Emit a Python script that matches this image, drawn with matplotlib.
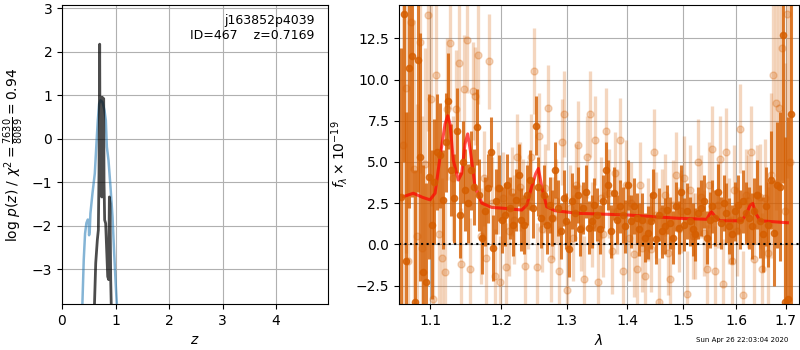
import matplotlib
matplotlib.use("Agg")
import matplotlib.pyplot as plt
from matplotlib.ticker import NullLocator, NullFormatter
import numpy as np

# --- left panel: log p(z) ---
z_prior = [0.381, 0.406, 0.431, 0.456, 0.481, 0.500, 0.506, 0.519, 0.531, 0.569,
           0.613, 0.644, 0.669, 0.694, 0.719, 0.756, 0.794, 0.819, 0.838, 0.869,
           0.906, 0.944, 0.975, 1.006, 1.025]
logp_prior = [-3.80, -2.79, -2.18, -1.94, -1.86, -1.87, -2.22, -2.10, -1.72, -1.26,
              -0.80, -0.11, 0.42, 0.80, 0.88, 0.84, 0.65, 0.42, -0.19, -0.50,
              -1.11, -1.80, -2.64, -3.40, -3.80]

z_fit = [0.604, 0.630, 0.660, 0.679, 0.692, 0.704, 0.710, 0.716, 0.722, 0.729,
         0.735, 0.742, 0.748, 0.754, 0.760, 0.766, 0.772, 0.779, 0.785, 0.790,
         0.797, 0.816, 0.835, 0.854, 0.872, 0.885, 0.897, 0.910, 0.922]
logp_fit = [-3.93, -2.86, -2.33, -2.10, -0.73, 2.17, -0.20, -1.18, 0.80, 0.95,
            -1.30, -1.34, 0.90, 0.95, -1.20, -1.34, 0.85, 0.92, -1.00, -1.34,
            -1.87, -1.95, -2.56, -3.17, -3.24, -1.34, -1.49, -3.24, -3.93]

# --- right panel: G141 spectrum ---
wave_range = (1.0613, 1.711)
flux = [2.9, 14.0, -1.0, 10.7, 11.4, -3.5, 11.2, 5.3, -1.7, -2.3,
        4.1, 1.2, 3.8, 5.6, 5.4, 2.7, 6.2, 8.7, 4.5, 2.8,
        6.9, 1.8, 5.0, 3.3, 2.5, 4.5, 3.5, 7.1, 3.0, 0.4,
        2.0, 3.4, 5.6, -0.2, 2.6, 3.4, 1.5, 1.8, 3.6, 2.2,
        1.2, 2.7, 4.2, 1.5, 1.2, 3.0, 3.9, 2.2, 7.2, 3.5,
        1.6, 3.0, 1.2, 2.4, 1.6, 4.5, 2.2, 0.8, 2.8, 1.4,
        -0.3, 2.6, 1.9, 3.0, 0.9, 2.2, 3.2, 1.0, 1.4, 2.4,
        1.8, 0.9, 2.6, 4.5, 3.6, 0.8, 3.1, 1.5, 2.3, 1.8,
        1.1, 3.6, 1.4, 2.3, 1.6, 0.9, 1.5, 0.4, 0.7, 1.4,
        3.0, 0.3, 1.8, 0.8, 1.1, 2.1, 1.3, 0.4, 2.3, 1.0,
        3.2, 1.2, 2.0, 1.4, 0.9, 0.6, 1.9, 2.2, 2.6, 0.4,
        1.5, 2.3, 1.6, 3.2, 1.3, 2.5, 1.9, 1.1, 0.6, 2.0,
        2.4, 1.5, 2.6, 1.9, 1.6, 1.1, 2.0, 3.0, 1.4, 0.6,
        2.3, 1.2, 3.9, 0.7, 3.6, 3.5, 12.7, -3.5, -3.3, 7.9]
err = [9.0, 9.0, 9.0, 8.5, 8.5, 8.0, 8.0, 7.5, 6.5, 6.0,
       5.0, 4.5, 3.8, 3.5, 3.2, 3.0, 3.0, 2.9, 2.8, 2.7,
       2.6, 2.6, 2.5, 2.5, 2.4, 2.4, 2.3, 2.3, 2.2, 2.2,
       2.1, 2.1, 2.1, 2.0, 2.0, 2.0, 2.0, 1.9, 1.9, 1.9,
       1.9, 1.9, 1.9, 1.9, 1.8, 1.8, 1.8, 1.8, 1.8, 1.8,
       1.8, 1.8, 1.8, 1.7, 1.7, 1.7, 1.7, 1.7, 1.7, 1.7,
       1.7, 1.7, 1.7, 1.7, 1.6, 1.6, 1.6, 1.6, 1.6, 1.6,
       1.6, 1.5, 1.6, 1.7, 1.5, 1.6, 1.6, 1.5, 1.6, 1.7,
       1.6, 1.5, 1.6, 1.7, 1.5, 1.6, 1.6, 1.5, 1.6, 1.7,
       1.6, 1.5, 1.6, 1.6, 1.7, 1.5, 1.6, 1.6, 1.5, 1.6,
       1.6, 1.6, 1.7, 1.5, 1.6, 1.6, 1.6, 1.7, 1.6, 1.6,
       1.7, 1.6, 1.7, 1.7, 1.6, 1.7, 1.8, 1.7, 1.8, 1.8,
       1.8, 1.8, 1.9, 1.9, 1.9, 2.0, 2.0, 2.1, 2.2, 2.3,
       2.4, 2.6, 3.0, 3.2, 3.8, 4.5, 9.0, 10.0, 11.0, 12.0]

wave_range_2 = (1.0640, 1.7094)
flux_2 = [6.0, 9.5, -1.0, 13.5, 4.6, 0.5, 12.3, -0.2, 4.9, 13.9,
          8.8, -3.3, 10.3, 0.6, -0.8, -1.7, 8.2, 12.2, 4.0, 8.2,
          11.0, -1.2, 9.4, 12.4, -1.5, 9.3, 9.0, 11.5, 0.5, 4.0,
          -0.8, 11.1, 2.5, -1.9, 3.4, -2.3, 2.8, -1.4, 0.8, 3.2,
          1.5, 5.3, 3.5, 2.6, -1.3, 2.4, 5.3, 10.5, -1.4, 6.6,
          0.9, 3.4, 8.3, -0.9, 1.6, 2.6, -1.6, 6.2, 7.9, -2.8,
          2.2, 0.4, 3.6, 6.0, 1.0, -2.1, 5.3, 7.9, 1.2, 6.3,
          -2.3, 2.8, 0.6, 6.9, 3.1, -0.4, 4.3, 2.0, 6.3, -1.6,
          3.6, 0.4, 2.5, -0.6, -1.5, 3.6, -0.2, -1.9, 1.5, -0.3,
          5.6, 1.8, -3.5, 2.0, 3.0, -0.5, -2.1, 2.4, 4.2, 0.9,
          2.0, 4.0, -3.0, 3.3, 0.5, 0.5, 5.0, 2.9, 0.7, -1.5,
          3.6, 5.8, -1.6, 2.4, 5.2, -2.4, 5.6, 1.4, -1.0, 3.3,
          0.8, 7.0, -3.1, 3.0, 2.6, 5.6, -0.9, 3.0, 2.9, -1.5,
          2.8, -0.5, 4.2, 10.3, 8.6, 8.3, 11.9, 2.0, 14.0, 5.0]
err_2 = [10, 10, 9, 9, 9, 8, 8, 8, 7, 7,
         6.5, 6.0, 5.5, 5.0, 4.8, 4.5, 4.3, 4.0, 3.8, 3.6,
         3.5, 3.4, 3.3, 3.2, 3.1, 3.0, 3.0, 3.0, 2.9, 2.9,
         2.9, 2.9, 2.8, 2.8, 2.8, 2.8, 2.8, 2.7, 2.7, 2.7,
         2.7, 2.6, 2.7, 2.6, 2.6, 2.7, 2.6, 2.6, 2.7, 2.6,
         2.6, 2.7, 2.6, 2.6, 2.5, 2.6, 2.7, 2.6, 2.6, 2.5,
         2.6, 2.6, 2.5, 2.7, 2.6, 2.6, 2.5, 2.6, 2.6, 2.7,
         2.6, 2.5, 2.6, 2.6, 2.7, 2.6, 2.5, 2.6, 2.6, 2.6,
         2.7, 2.6, 2.5, 2.6, 2.6, 2.6, 2.7, 2.6, 2.5, 2.6,
         2.6, 2.6, 2.7, 2.6, 2.5, 2.6, 2.6, 2.7, 2.6, 2.6,
         2.5, 2.6, 2.6, 2.7, 2.6, 2.6, 2.6, 2.5, 2.6, 2.7,
         2.6, 2.6, 2.7, 2.6, 2.6, 2.7, 2.7, 2.6, 2.7, 2.7,
         2.7, 2.7, 2.7, 2.8, 2.8, 2.8, 2.9, 3.0, 3.2, 3.4,
         3.6, 4.0, 5.0, 6.0, 6.5, 7.0, 8.0, 9.0, 10, 10]

model_wave = [1.0646, 1.0777, 1.090, 1.100, 1.1068, 1.1136, 1.1204, 1.1241, 1.1273, 1.1318,
              1.1388, 1.1435, 1.1481, 1.1519, 1.1556, 1.1623, 1.1719, 1.1863, 1.2058, 1.2307,
              1.2383, 1.2458, 1.2520, 1.2560, 1.2612, 1.2689, 1.2819, 1.3189, 1.4022, 1.4907,
              1.5435, 1.5497, 1.5527, 1.5593, 1.5688, 1.6110, 1.6209, 1.6275, 1.6329, 1.6389,
              1.6475, 1.7036]
model_flux = [2.89, 3.1, 2.85, 2.7, 3.1, 5.3, 7.3, 7.8, 7.3, 5.1,
              3.9, 4.3, 6.1, 6.7, 5.7, 3.5, 2.5, 2.24, 2.18, 2.08,
              2.38, 3.5, 4.3, 4.6, 3.5, 2.28, 2.04, 1.88, 1.78, 1.58,
              1.52, 1.88, 1.97, 1.68, 1.43, 1.43, 1.88, 2.38, 2.48, 1.88,
              1.43, 1.31]

wave_ticks = [1.1, 1.2, 1.3, 1.4, 1.5, 1.6, 1.7]
orange = (0.835, 0.369, 0.0)

fig = plt.figure(figsize=(8, 3.5), dpi=100)
ax1 = fig.add_axes([62/800, 46/350, 266/800, 299/350])
ax2 = fig.add_axes([399/800, 46/350, 400/800, 299/350])

ax1.plot(z_prior, logp_prior, color='tab:blue', alpha=0.55, lw=1.8)
ax1.plot(z_fit, logp_fit, color='k', alpha=0.7, lw=2)
ax1.set_xlim(0, 4.97)
ax1.set_ylim(-3.8, 3.07)
ax1.set_xticks([0, 1, 2, 3, 4])
ax1.set_yticks([-3, -2, -1, 0, 1, 2, 3])
ax1.grid(True)
ax1.set_xlabel(r'$z$')
ax1.set_ylabel(r'$\log\,p(z)$ / $\chi^2=\frac{7630}{8089}=0.94$')
ax1.text(0.95, 0.97, 'j163852p4039\nID=467    z=0.7169', ha='right', va='top',
         transform=ax1.transAxes, fontsize=9)

wave = np.geomspace(wave_range[0], wave_range[1], len(flux))
wave_2 = np.geomspace(wave_range_2[0], wave_range_2[1], len(flux_2))

ax2.errorbar(wave_2, flux_2, yerr=err_2, color=orange, alpha=0.25, marker='o', ms=5,
             linestyle='None', elinewidth=2.4)
ax2.errorbar(wave, flux, yerr=err, color=orange, alpha=0.8, marker='o', ms=4.5,
             linestyle='None', elinewidth=2.2)
ax2.plot(model_wave, model_flux, color='r', alpha=0.7, lw=2.2)
ax2.axhline(0, color='k', linestyle=':', lw=1.5)

ax2.set_xscale('log')
ax2.set_xlim(1.059, 1.728)
ax2.set_ylim(-3.62, 14.52)
ax2.set_xticks(wave_ticks)
ax2.set_xticklabels([f'{w:.1f}' for w in wave_ticks])
ax2.xaxis.set_minor_locator(NullLocator())
ax2.xaxis.set_minor_formatter(NullFormatter())
ax2.set_yticks([-2.5, 0, 2.5, 5, 7.5, 10, 12.5])
ax2.grid(True)
ax2.set_xlabel(r'$\lambda$')
ax2.set_ylabel(r'$f_\lambda\times10^{-19}$')

fig.text(0.985, 0.02, 'Sun Apr 26 22:03:04 2020', ha='right', va='bottom', fontsize=5)

fig.savefig('out.png', dpi=100)
